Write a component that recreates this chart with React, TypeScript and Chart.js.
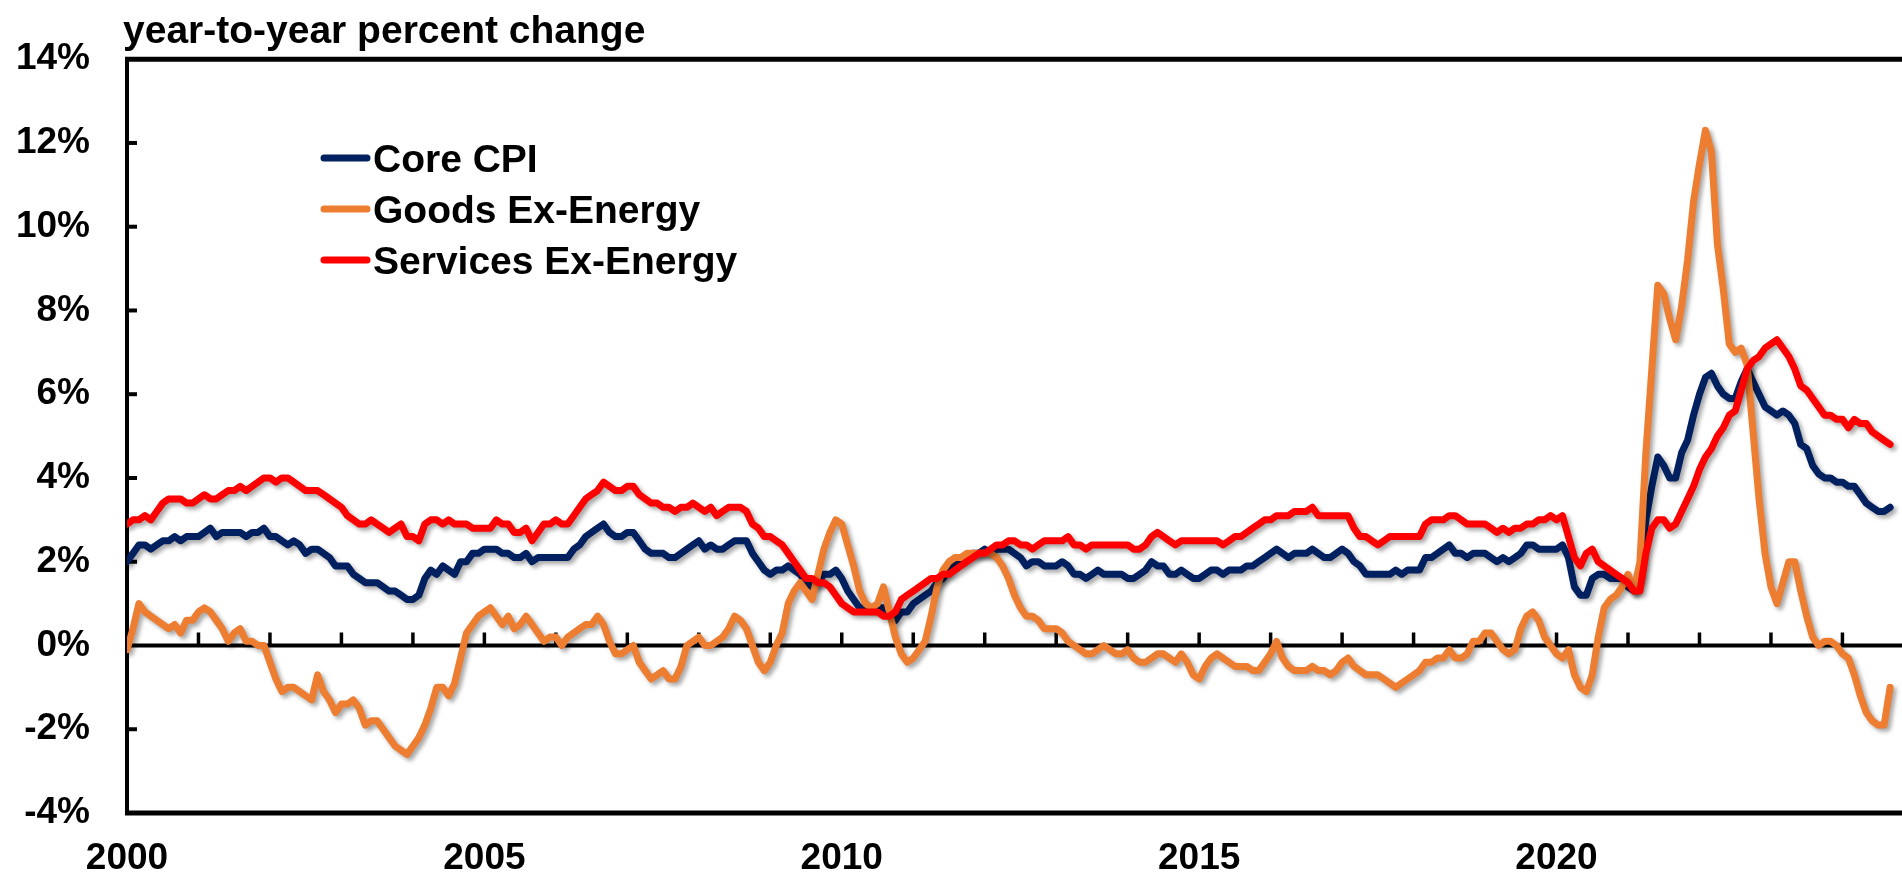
import React, { useEffect, useRef } from 'react';
import { Chart, registerables } from 'chart.js';

Chart.register(...registerables);

// ---------- data (monthly, Jan 2000 .. Sep 2024) ----------
const START_YEAR = 2000;
const xTickYears = [2000, 2005, 2010, 2015, 2020];
const yTickValues = [-4, -2, 0, 2, 4, 6, 8, 10, 12, 14];
const titleText = 'year-to-year percent change';
const seriesNames = ['Core CPI', 'Goods Ex-Energy', 'Services Ex-Energy'];
const seriesColors = ['#002060', '#ED7D31', '#FF0000'];

const coreCPI = [
  2.0, 2.2, 2.4, 2.4, 2.3, 2.4, 2.5, 2.5, 2.6, 2.5, 2.6, 2.6, // 2000
  2.6, 2.7, 2.8, 2.6, 2.7, 2.7, 2.7, 2.7, 2.6, 2.7, 2.7, 2.8, // 2001
  2.6, 2.6, 2.5, 2.4, 2.5, 2.4, 2.2, 2.3, 2.3, 2.2, 2.1, 1.9, // 2002
  1.9, 1.9, 1.7, 1.6, 1.5, 1.5, 1.5, 1.4, 1.3, 1.3, 1.2, 1.1, // 2003
  1.1, 1.2, 1.6, 1.8, 1.7, 1.9, 1.8, 1.7, 2.0, 2.0, 2.2, 2.2, // 2004
  2.3, 2.3, 2.3, 2.2, 2.2, 2.1, 2.1, 2.2, 2.0, 2.1, 2.1, 2.1, // 2005
  2.1, 2.1, 2.1, 2.3, 2.4, 2.6, 2.7, 2.8, 2.9, 2.7, 2.6, 2.6, // 2006
  2.7, 2.7, 2.5, 2.3, 2.2, 2.2, 2.2, 2.1, 2.1, 2.2, 2.3, 2.4, // 2007
  2.5, 2.3, 2.4, 2.3, 2.3, 2.4, 2.5, 2.5, 2.5, 2.2, 2.0, 1.8, // 2008
  1.7, 1.8, 1.8, 1.9, 1.8, 1.7, 1.5, 1.4, 1.5, 1.7, 1.7, 1.8, // 2009
  1.6, 1.3, 1.1, 0.9, 0.9, 0.9, 0.9, 0.9, 0.8, 0.6, 0.8, 0.8, // 2010
  1.0, 1.1, 1.2, 1.3, 1.5, 1.6, 1.8, 2.0, 2.0, 2.1, 2.2, 2.2, // 2011
  2.3, 2.2, 2.3, 2.3, 2.3, 2.2, 2.1, 1.9, 2.0, 2.0, 1.9, 1.9, // 2012
  1.9, 2.0, 1.9, 1.7, 1.7, 1.6, 1.7, 1.8, 1.7, 1.7, 1.7, 1.7, // 2013
  1.6, 1.6, 1.7, 1.8, 2.0, 1.9, 1.9, 1.7, 1.7, 1.8, 1.7, 1.6, // 2014
  1.6, 1.7, 1.8, 1.8, 1.7, 1.8, 1.8, 1.8, 1.9, 1.9, 2.0, 2.1, // 2015
  2.2, 2.3, 2.2, 2.1, 2.2, 2.2, 2.2, 2.3, 2.2, 2.1, 2.1, 2.2, // 2016
  2.3, 2.2, 2.0, 1.9, 1.7, 1.7, 1.7, 1.7, 1.7, 1.8, 1.7, 1.8, // 2017
  1.8, 1.8, 2.1, 2.1, 2.2, 2.3, 2.4, 2.2, 2.2, 2.1, 2.2, 2.2, // 2018
  2.2, 2.1, 2.0, 2.1, 2.0, 2.1, 2.2, 2.4, 2.4, 2.3, 2.3, 2.3, // 2019
  2.3, 2.4, 2.1, 1.4, 1.2, 1.2, 1.6, 1.7, 1.7, 1.6, 1.6, 1.6, // 2020
  1.4, 1.3, 1.6, 3.0, 3.8, 4.5, 4.3, 4.0, 4.0, 4.6, 4.9, 5.5, // 2021
  6.0, 6.4, 6.5, 6.2, 6.0, 5.9, 5.9, 6.3, 6.6, 6.3, 6.0, 5.7, // 2022
  5.6, 5.5, 5.6, 5.5, 5.3, 4.8, 4.7, 4.3, 4.1, 4.0, 4.0, 3.9, // 2023
  3.9, 3.8, 3.8, 3.6, 3.4, 3.3, 3.2, 3.2, 3.3, // 2024
];

const goodsExEnergy = [
  -0.1, 0.4, 1.0, 0.8, 0.7, 0.6, 0.5, 0.4, 0.5, 0.3, 0.6, 0.6, // 2000
  0.8, 0.9, 0.8, 0.6, 0.4, 0.1, 0.3, 0.4, 0.1, 0.1, 0.0, 0.0, // 2001
  -0.4, -0.8, -1.1, -1.0, -1.0, -1.1, -1.2, -1.3, -0.7, -1.1, -1.3, -1.6, // 2002
  -1.4, -1.4, -1.3, -1.5, -1.9, -1.8, -1.8, -2.0, -2.2, -2.4, -2.5, -2.6, // 2003
  -2.4, -2.2, -1.9, -1.5, -1.0, -1.0, -1.2, -0.9, -0.3, 0.3, 0.5, 0.7, // 2004
  0.8, 0.9, 0.7, 0.5, 0.7, 0.4, 0.5, 0.7, 0.5, 0.3, 0.1, 0.2, // 2005
  0.2, 0.0, 0.2, 0.3, 0.4, 0.5, 0.5, 0.7, 0.5, 0.1, -0.2, -0.2, // 2006
  -0.1, 0.0, -0.4, -0.6, -0.8, -0.7, -0.6, -0.8, -0.8, -0.5, 0.0, 0.1, // 2007
  0.2, 0.0, 0.0, 0.1, 0.2, 0.4, 0.7, 0.6, 0.4, 0.0, -0.4, -0.6, // 2008
  -0.4, 0.0, 0.3, 1.0, 1.3, 1.5, 1.3, 1.1, 1.7, 2.3, 2.7, 3.0, // 2009
  2.9, 2.4, 1.9, 1.3, 1.0, 0.9, 1.0, 1.4, 0.8, 0.2, -0.2, -0.4, // 2010
  -0.3, -0.1, 0.1, 0.7, 1.4, 1.8, 2.0, 2.1, 2.1, 2.2, 2.2, 2.2, // 2011
  2.2, 2.2, 2.1, 1.9, 1.6, 1.2, 0.9, 0.7, 0.7, 0.6, 0.4, 0.4, // 2012
  0.4, 0.3, 0.1, 0.0, -0.1, -0.2, -0.2, -0.1, 0.0, -0.1, -0.2, -0.2, // 2013
  -0.1, -0.3, -0.4, -0.4, -0.3, -0.2, -0.2, -0.3, -0.4, -0.2, -0.4, -0.7, // 2014
  -0.8, -0.5, -0.3, -0.2, -0.3, -0.4, -0.5, -0.5, -0.5, -0.6, -0.6, -0.4, // 2015
  -0.2, 0.1, -0.3, -0.5, -0.6, -0.6, -0.6, -0.5, -0.6, -0.6, -0.7, -0.6, // 2016
  -0.4, -0.3, -0.5, -0.6, -0.7, -0.7, -0.7, -0.8, -0.9, -1.0, -0.9, -0.8, // 2017
  -0.7, -0.6, -0.4, -0.4, -0.3, -0.3, -0.1, -0.3, -0.3, -0.2, 0.1, 0.1, // 2018
  0.3, 0.3, 0.1, -0.1, -0.2, -0.1, 0.4, 0.7, 0.8, 0.6, 0.2, 0.0, // 2019
  -0.2, -0.3, -0.1, -0.7, -1.0, -1.1, -0.7, 0.2, 0.9, 1.1, 1.2, 1.4, // 2020
  1.7, 1.3, 2.0, 4.6, 6.6, 8.6, 8.4, 7.8, 7.3, 8.1, 9.2, 10.6, // 2021
  11.5, 12.3, 11.8, 9.6, 8.5, 7.2, 7.0, 7.1, 6.7, 5.1, 3.5, 2.2, // 2022
  1.4, 1.0, 1.5, 2.0, 2.0, 1.3, 0.7, 0.2, 0.0, 0.1, 0.1, 0.0, // 2023
  -0.2, -0.3, -0.7, -1.2, -1.6, -1.8, -1.9, -1.9, -1.0, // 2024
];

const servicesExEnergy = [
  2.9, 3.0, 3.0, 3.1, 3.0, 3.2, 3.4, 3.5, 3.5, 3.5, 3.4, 3.4, // 2000
  3.5, 3.6, 3.5, 3.5, 3.6, 3.7, 3.7, 3.8, 3.7, 3.8, 3.9, 4.0, // 2001
  4.0, 3.9, 4.0, 4.0, 3.9, 3.8, 3.7, 3.7, 3.7, 3.6, 3.5, 3.4, // 2002
  3.3, 3.1, 3.0, 2.9, 2.9, 3.0, 2.9, 2.8, 2.7, 2.8, 2.9, 2.6, // 2003
  2.6, 2.5, 2.9, 3.0, 3.0, 2.9, 3.0, 2.9, 2.9, 2.9, 2.8, 2.8, // 2004
  2.8, 2.8, 3.0, 2.9, 2.9, 2.7, 2.7, 2.8, 2.5, 2.7, 2.9, 2.9, // 2005
  3.0, 2.9, 2.9, 3.1, 3.3, 3.5, 3.6, 3.7, 3.9, 3.8, 3.7, 3.7, // 2006
  3.8, 3.8, 3.6, 3.5, 3.4, 3.4, 3.3, 3.3, 3.2, 3.3, 3.3, 3.4, // 2007
  3.3, 3.2, 3.3, 3.1, 3.2, 3.3, 3.3, 3.3, 3.2, 2.9, 2.8, 2.6, // 2008
  2.6, 2.5, 2.4, 2.2, 2.0, 1.8, 1.6, 1.6, 1.5, 1.5, 1.4, 1.2, // 2009
  1.0, 0.9, 0.8, 0.8, 0.8, 0.8, 0.8, 0.7, 0.7, 0.8, 1.1, 1.2, // 2010
  1.3, 1.4, 1.5, 1.6, 1.6, 1.7, 1.7, 1.8, 1.9, 2.0, 2.1, 2.2, // 2011
  2.2, 2.3, 2.4, 2.4, 2.5, 2.5, 2.4, 2.4, 2.3, 2.4, 2.5, 2.5, // 2012
  2.5, 2.5, 2.6, 2.4, 2.4, 2.3, 2.4, 2.4, 2.4, 2.4, 2.4, 2.4, // 2013
  2.4, 2.3, 2.3, 2.4, 2.6, 2.7, 2.6, 2.5, 2.4, 2.5, 2.5, 2.5, // 2014
  2.5, 2.5, 2.5, 2.5, 2.4, 2.5, 2.6, 2.6, 2.7, 2.8, 2.9, 3.0, // 2015
  3.0, 3.1, 3.1, 3.1, 3.2, 3.2, 3.2, 3.3, 3.1, 3.1, 3.1, 3.1, // 2016
  3.1, 3.1, 2.8, 2.6, 2.6, 2.5, 2.4, 2.5, 2.6, 2.6, 2.6, 2.6, // 2017
  2.6, 2.6, 2.9, 3.0, 3.0, 3.0, 3.1, 3.1, 3.0, 2.9, 2.9, 2.9, // 2018
  2.9, 2.8, 2.7, 2.8, 2.7, 2.8, 2.8, 2.9, 2.9, 3.0, 3.0, 3.1, // 2019
  3.0, 3.1, 2.6, 2.1, 1.9, 2.2, 2.3, 2.0, 1.9, 1.8, 1.7, 1.6, // 2020
  1.5, 1.3, 1.3, 2.2, 2.8, 3.0, 3.0, 2.8, 2.9, 3.2, 3.5, 3.8, // 2021
  4.2, 4.5, 4.7, 5.0, 5.2, 5.5, 5.6, 6.1, 6.6, 6.8, 6.9, 7.1, // 2022
  7.2, 7.3, 7.1, 6.9, 6.6, 6.2, 6.1, 5.9, 5.7, 5.5, 5.5, 5.4, // 2023
  5.4, 5.2, 5.4, 5.3, 5.3, 5.1, 5.0, 4.9, 4.8, // 2024
];

const seriesValues = [coreCPI, goodsExEnergy, servicesExEnergy];

// ---------- layout constants ----------
const FONT = '"Liberation Sans", Arial, sans-serif';
const X_MAX = 298;

const decorPlugin = {
  id: 'decor',
  beforeDatasetsDraw(chart: any) {
    const { ctx, chartArea, scales } = chart;
    const x = scales.x;
    const y = scales.y;
    const L = chartArea.left;
    const R = chartArea.right;
    const T = y.getPixelForValue(yTickValues[yTickValues.length - 1]);
    const B = y.getPixelForValue(yTickValues[0]);
    const Z = y.getPixelForValue(0);
    ctx.save();
    ctx.strokeStyle = '#000';
    ctx.lineCap = 'butt';
    const seg = (x1: number, y1: number, x2: number, y2: number, w: number) => {
      ctx.lineWidth = w;
      ctx.beginPath();
      ctx.moveTo(x1, y1);
      ctx.lineTo(x2, y2);
      ctx.stroke();
    };
    // frame: top, left, bottom
    seg(L - 2, T, R, T, 5);
    seg(L, T - 2, L, B + 2, 4);
    seg(L - 2, B, R, B, 5);
    // zero line
    seg(L, Z, R, Z, 4);
    // year ticks on zero line
    for (let m = 12; m < X_MAX; m += 12) {
      const px = x.getPixelForValue(m);
      seg(px, Z, px, Z - 13, 3.5);
    }
    // y ticks pointing inward
    yTickValues.forEach((v) => {
      if (v === 0 || v === yTickValues[0] || v === yTickValues[yTickValues.length - 1]) return;
      const py = y.getPixelForValue(v);
      seg(L, py, L + 10, py, 4);
    });
    ctx.restore();
  },
  beforeDatasetDraw(chart: any) {
    const ctx = chart.ctx;
    ctx.save();
    ctx.shadowColor = 'rgba(0,0,0,0.35)';
    ctx.shadowBlur = 4;
    ctx.shadowOffsetX = 3;
    ctx.shadowOffsetY = 3;
  },
  afterDatasetDraw(chart: any) {
    chart.ctx.restore();
  },
  afterDraw(chart: any) {
    const { ctx } = chart;
    ctx.save();
    // title
    ctx.fillStyle = '#000';
    ctx.font = `bold 39px ${FONT}`;
    ctx.textAlign = 'left';
    ctx.textBaseline = 'alphabetic';
    ctx.fillText(titleText, 123, 43);
    // legend
    chart.data.datasets.forEach((ds: any, i: number) => {
      const ly = 158 + i * 51;
      ctx.strokeStyle = ds.borderColor;
      ctx.lineWidth = 7;
      ctx.lineCap = 'round';
      ctx.beginPath();
      ctx.moveTo(324, ly);
      ctx.lineTo(367, ly);
      ctx.stroke();
      ctx.fillStyle = '#000';
      ctx.font = `bold 39px ${FONT}`;
      ctx.fillText(ds.label, 373, ly + 14);
    });
    ctx.restore();
  },
};

export default function App() {
  const canvasRef = useRef<HTMLCanvasElement | null>(null);

  useEffect(() => {
    document.body.style.margin = '0';
    document.body.style.overflow = 'hidden';
    const canvas = canvasRef.current;
    if (!canvas) return;

    const datasets = seriesNames.map((name, i) => ({
      label: name,
      data: seriesValues[i].map((v, idx) => ({ x: idx, y: v })),
      borderColor: seriesColors[i],
      backgroundColor: seriesColors[i],
      borderWidth: 7,
      pointRadius: 0,
      pointHoverRadius: 0,
      tension: 0,
      fill: false,
      borderJoinStyle: 'round' as const,
      borderCapStyle: 'round' as const,
      order: [2, 1, 0][i],
    }));

    const chart = new Chart(canvas, {
      type: 'line',
      data: { datasets },
      options: {
        animation: false,
        responsive: true,
        maintainAspectRatio: false,
        parsing: false as any,
        normalized: true,
        events: [],
        layout: { padding: { top: 54, right: 0, left: 0, bottom: 0 } },
        plugins: {
          legend: { display: false },
          tooltip: { enabled: false },
          title: { display: false },
        },
        scales: {
          x: {
            type: 'linear',
            min: 0,
            max: X_MAX,
            grid: { display: false, drawTicks: false },
            border: { display: false },
            afterBuildTicks: (axis: any) => {
              axis.ticks = xTickYears.map((yr) => ({ value: (yr - START_YEAR) * 12 }));
            },
            afterFit: (axis: any) => {
              axis.height = 65;
            },
            ticks: {
              autoSkip: false,
              maxRotation: 0,
              minRotation: 0,
              padding: 24,
              color: '#000',
              font: { family: FONT, size: 37, weight: 'bold' },
              callback: (value: any) => String(START_YEAR + Math.round(Number(value) / 12)),
            },
          },
          y: {
            type: 'linear',
            min: yTickValues[0],
            max: yTickValues[yTickValues.length - 1],
            grid: { display: false, drawTicks: false },
            border: { display: false },
            afterBuildTicks: (axis: any) => {
              axis.ticks = yTickValues.map((v) => ({ value: v }));
            },
            afterFit: (axis: any) => {
              axis.width = 127;
            },
            ticks: {
              padding: 37,
              color: '#000',
              font: { family: FONT, size: 37, weight: 'bold' },
              callback: (value: any) => `${value}%`,
            },
          },
        },
      },
      plugins: [decorPlugin],
    });

    return () => {
      chart.destroy();
    };
  }, []);

  return (
    <div style={{ position: 'absolute', left: 0, top: 0, width: '1902px', height: '878px', background: '#fff' }}>
      <canvas ref={canvasRef} style={{ display: 'block' }} />
    </div>
  );
}
